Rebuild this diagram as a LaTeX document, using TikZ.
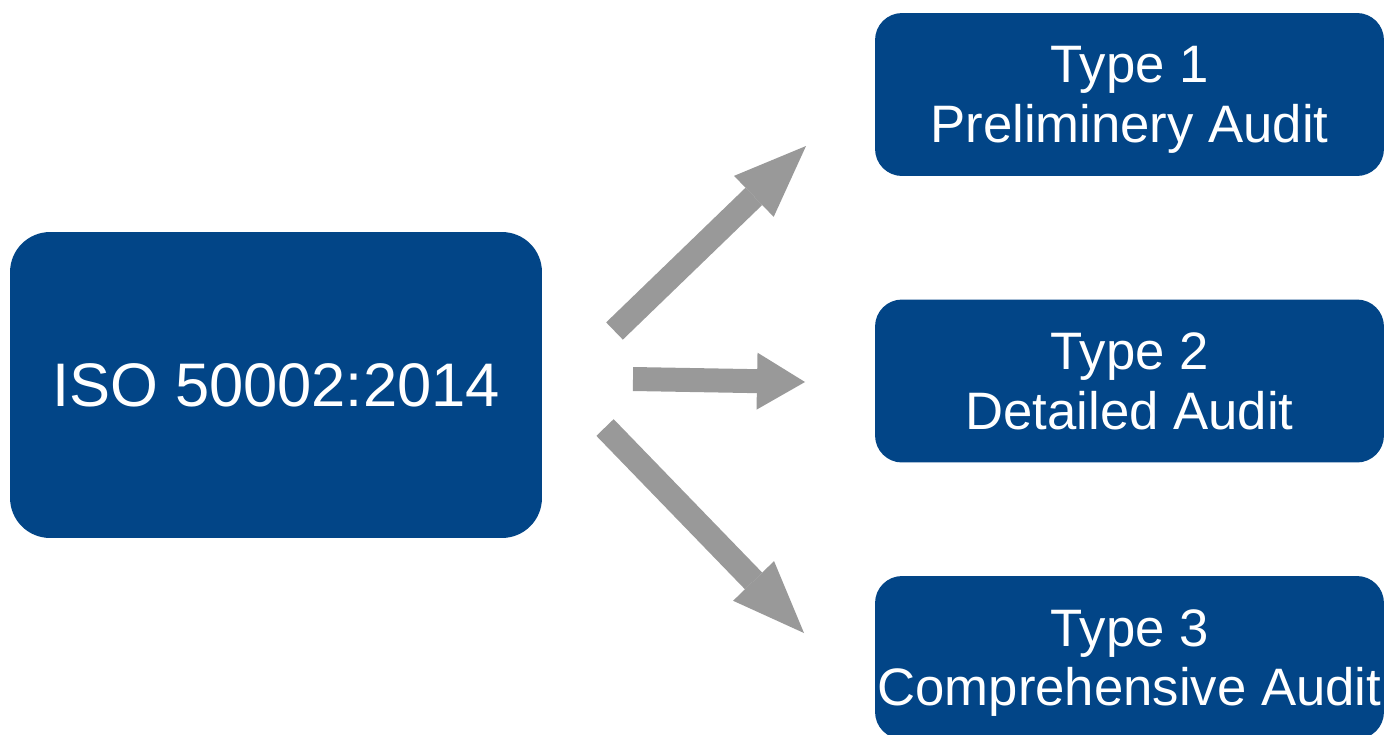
\documentclass[tikz,border=0pt]{standalone}
\usepackage{fontspec}
\setmainfont{Liberation Sans}
\usetikzlibrary{arrows.meta, positioning}
\definecolor{isoblue}{HTML}{024587}
\definecolor{arrgray}{HTML}{999999}
\tikzset{
  isobox/.style={fill=isoblue, text=white, rounded corners=0.8cm,
                 minimum width=10.64cm, minimum height=6.12cm, inner sep=0pt,
                 font=\fontsize{35}{40}\selectfont},
  typebox/.style={fill=isoblue, text=white, rounded corners=0.54cm,
                  minimum width=10.18cm, minimum height=3.26cm, inner sep=0pt,
                  text depth=0pt, align=center, font=\fontsize{30}{34}\selectfont},
  bigarr/.style={arrgray, line width=0.48cm,
                 -{Triangle[length=1.45cm, width=1.14cm, line width=0pt]}},
  flatarr/.style={arrgray, line width=0.48cm,
                  -{Triangle[length=0.96cm, width=1.14cm, line width=0pt]}},
}
\begin{document}
\begin{tikzpicture}[x=0.02cm, y=-0.02cm]
  \useasboundingbox (0,0) rectangle (1391,734);
  \node[isobox] (iso) at (276,385) {ISO 50002:2014};
  \node[typebox] (t1) at (1129.5,94.5) {Type 1\\Preliminery Audit};
  \node[typebox] (t2) at (1129.5,381) {Type 2\\Detailed Audit};
  \node[typebox] (t3) at (1129.5,657.5) {Type 3\\Comprehensive Audit};
  % arrow ends
  \coordinate (a1s) at (614.5,331);
  \coordinate (a1e) at (806,146);
  \coordinate (a2s) at (633,379);
  \coordinate (a2e) at (805,382);
  \coordinate (a3s) at (605,427.5);
  \coordinate (a3e) at (804,633);
  \draw[bigarr] (a1s) -- (a1e);
  \draw[flatarr] (a2s) -- (a2e);
  \draw[bigarr] (a3s) -- (a3e);
\end{tikzpicture}
\end{document}
